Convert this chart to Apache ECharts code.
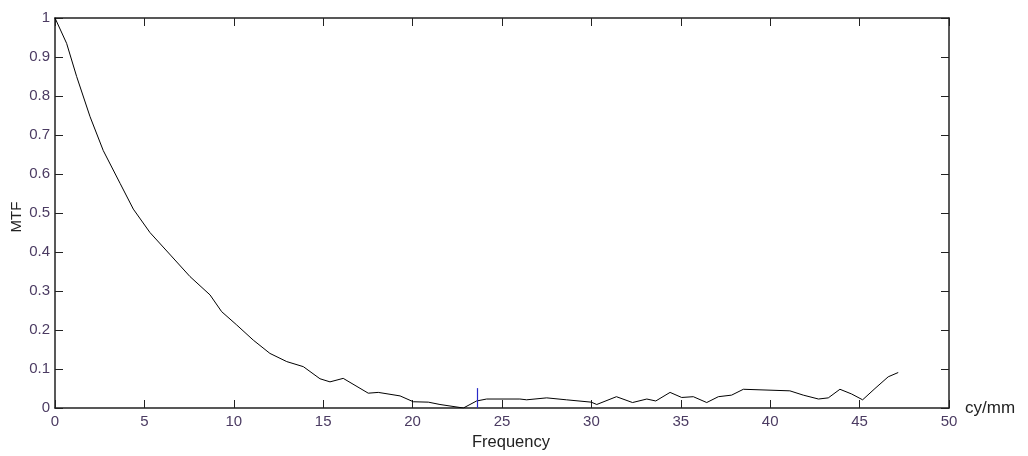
<!DOCTYPE html>
<html>
<head>
<meta charset="utf-8">
<script src="https://cdn.jsdelivr.net/npm/echarts@6/dist/echarts.min.js"></script>
<style>
    html, body { margin: 0; padding: 0; background: #fff; }
    #chart { width: 1028px; height: 456px; }
</style>
</head>
<body>
<div id="chart"></div>
<script>
// 曲线数据
var freq = [0, 0.65, 1.21, 1.96, 2.7, 3.64, 4.38, 5.31, 6.5, 7.55, 8.67, 9.32, 10.16, 11.09, 12.02,
    12.96, 13.89, 14.82, 15.38, 16.12, 17.52, 18.08, 19.3, 20.04, 20.88, 21.53, 22.84, 23.58, 24.14,
    26.0, 26.38, 27.5, 28.6, 29.99, 30.3, 31.4, 32.3, 33.1, 33.6, 34.4, 35.05, 35.7, 36.45, 37.1,
    37.84, 38.5, 41.1, 41.85, 42.7, 43.25, 43.9, 44.55, 45.17, 45.86, 46.6, 47.16];
var mtf = [1, 0.935, 0.85, 0.747, 0.66, 0.576, 0.51, 0.45, 0.39, 0.337, 0.29, 0.247, 0.213, 0.174, 0.14,
    0.119, 0.106, 0.075, 0.067, 0.076, 0.038, 0.04, 0.031, 0.016, 0.015, 0.009, 0, 0.018, 0.023,
    0.023, 0.021, 0.026, 0.021, 0.015, 0.009, 0.029, 0.014, 0.023, 0.018, 0.04, 0.027, 0.029, 0.014, 0.029,
    0.033, 0.048, 0.044, 0.033, 0.023, 0.026, 0.048, 0.036, 0.021, 0.05, 0.08, 0.091];

// 蓝色标记
var markerFreq = 23.6;
var markerTop = 0.051;

var xTicks = [0, 5, 10, 15, 20, 25, 30, 35, 40, 45, 50];
var yTicks = [0, 0.1, 0.2, 0.3, 0.4, 0.5, 0.6, 0.7, 0.8, 0.9, 1];

var seriesData = freq.map(function (f, i) {
    return [f, mtf[i]];
});

var myChart = echarts.init(document.getElementById('chart'));

var labelColor = '#4b3b62';
var axisColor = '#222';

var option = {
    animation: false,
    backgroundColor: '#fff',
    grid: {
        left: 55,
        right: 79,
        top: 18,
        bottom: 48,
        containLabel: false,
        outerBoundsMode: 'none'
    },
    xAxis: [{
        type: 'value',
        min: xTicks[0],
        max: xTicks[xTicks.length - 1],
        interval: 5,
        name: 'cy/mm',
        nameLocation: 'end',
        nameGap: 16,
        nameTextStyle: {
            color: '#222',
            fontFamily: 'Liberation Sans',
            fontSize: 17,
            verticalAlign: 'middle',
            align: 'left'
        },
        axisLine: { onZero: false, lineStyle: { color: axisColor, width: 1.5 } },
        axisTick: { inside: true, length: 8, lineStyle: { color: axisColor } },
        axisLabel: {
            margin: 6,
            color: labelColor,
            fontFamily: 'Liberation Sans',
            fontSize: 15
        },
        splitLine: { show: false }
    }, {
        type: 'value',
        position: 'top',
        min: xTicks[0],
        max: xTicks[xTicks.length - 1],
        interval: 5,
        axisLine: { onZero: false, lineStyle: { color: axisColor, width: 1.5 } },
        axisTick: { inside: true, length: 8, lineStyle: { color: axisColor } },
        axisLabel: { show: false },
        splitLine: { show: false }
    }],
    yAxis: [{
        type: 'value',
        min: yTicks[0],
        max: yTicks[yTicks.length - 1],
        interval: 0.1,
        axisLine: { show: true, onZero: false, lineStyle: { color: axisColor, width: 1.5 } },
        axisTick: { show: true, inside: true, length: 8, lineStyle: { color: axisColor } },
        axisLabel: {
            margin: 5,
            color: labelColor,
            fontFamily: 'Liberation Sans',
            fontSize: 15
        },
        splitLine: { show: false }
    }, {
        type: 'value',
        position: 'right',
        min: yTicks[0],
        max: yTicks[yTicks.length - 1],
        interval: 0.1,
        axisLine: { show: true, onZero: false, lineStyle: { color: axisColor, width: 1.5 } },
        axisTick: { show: true, inside: true, length: 8, lineStyle: { color: axisColor } },
        axisLabel: { show: false },
        splitLine: { show: false }
    }],
    graphic: [{
        type: 'text',
        left: 472,
        top: 434,
        style: {
            text: 'Frequency',
            fill: '#222',
            font: '16.5px "Liberation Sans"'
        }
    }, {
        type: 'text',
        x: 17,
        y: 217,
        rotation: Math.PI / 2,
        style: {
            text: 'MTF',
            fill: '#222',
            font: '15px "Liberation Sans"',
            align: 'center',
            verticalAlign: 'middle'
        }
    }],
    series: [{
        type: 'line',
        data: seriesData,
        showSymbol: false,
        lineStyle: { color: '#000', width: 1 },
        markLine: {
            silent: true,
            symbol: 'none',
            label: { show: false },
            lineStyle: { color: '#2a2ac8', width: 1.2, type: 'solid' },
            data: [
                [{ coord: [markerFreq, 0] }, { coord: [markerFreq, markerTop] }]
            ]
        }
    }]
};

myChart.setOption(option);
</script>
</body>
</html>
